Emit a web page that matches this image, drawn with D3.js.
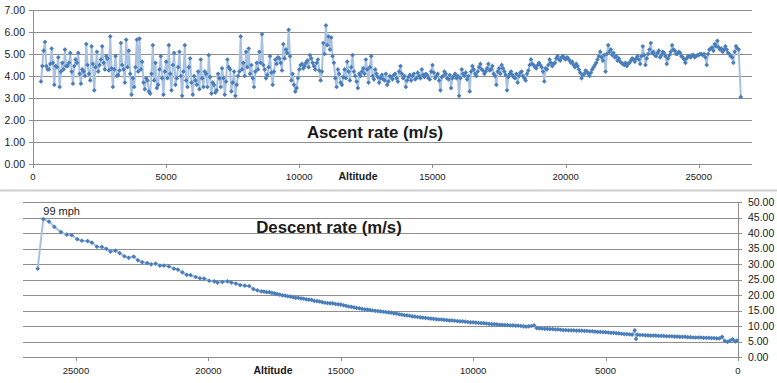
<!DOCTYPE html>
<html>
<head>
<meta charset="utf-8">
<script src="https://cdn.jsdelivr.net/npm/d3@7"></script>
<style>
body { margin: 0; background: #fff; }
svg text { font-family: "Liberation Sans", Arial, sans-serif; fill: #1a1a1a; }
</style>
</head>
<body>
<script>
var width = 777;
var height = 383;

// ascent: altitude (m) and rate (m/s), readings on the 100 m marks
var ascentAlt = [
  300, 400, 500, 600, 700, 800, 900,
  1000, 1100, 1200, 1300, 1400, 1500, 1600, 1700, 1800, 1900,
  2000, 2100, 2200, 2300, 2400, 2500, 2600, 2700, 2800, 2900,
  3000, 3100, 3200, 3300, 3400, 3500, 3600, 3700, 3800, 3900,
  4000, 4100, 4200, 4300, 4400, 4500, 4600, 4700, 4800, 4900,
  5000, 5100, 5200, 5300, 5400, 5500, 5600, 5700, 5800, 5900,
  6000, 6100, 6200, 6300, 6400, 6500, 6600, 6700, 6800, 6900,
  7000, 7100, 7200, 7300, 7400, 7500, 7600, 7700, 7800, 7900,
  8000, 8100, 8200, 8300, 8400, 8500, 8600, 8700, 8800, 8900,
  9000, 9100, 9200, 9300, 9400, 9500, 9600, 9700, 9800, 9900,
  10000, 10100, 10200, 10300, 10400, 10500, 10600, 10700, 10800, 10900,
  11000, 11100, 11200, 11300, 11400, 11500, 11600, 11700, 11800, 11900,
  12000, 12100, 12200, 12300, 12400, 12500, 12600, 12700, 12800, 12900,
  13000, 13100, 13200, 13300, 13400, 13500, 13600, 13700, 13800, 13900,
  14000, 14100, 14200, 14300, 14400, 14500, 14600, 14700, 14800, 14900,
  15000, 15100, 15200, 15300, 15400, 15500, 15600, 15700, 15800, 15900,
  16000, 16100, 16200, 16300, 16400, 16500, 16600, 16700, 16800, 16900,
  17000, 17100, 17200, 17300, 17400, 17500, 17600, 17700, 17800, 17900,
  18000, 18100, 18200, 18300, 18400, 18500, 18600, 18700, 18800, 18900,
  19000, 19100, 19200, 19300, 19400, 19500, 19600, 19700, 19800, 19900,
  20000, 20100, 20200, 20300, 20400, 20500, 20600, 20700, 20800, 20900,
  21000, 21100, 21200, 21300, 21400, 21500, 21600, 21700, 21800, 21900,
  22000, 22100, 22200, 22300, 22400, 22500, 22600, 22700, 22800, 22900,
  23000, 23100, 23200, 23300, 23400, 23500, 23600, 23700, 23800, 23900,
  24000, 24100, 24200, 24300, 24400, 24500, 24600, 24700, 24800, 24900,
  25000, 25100, 25200, 25300, 25400, 25500, 25600, 25700, 25800, 25900,
  26000, 26100, 26200, 26300, 26400, 26500, 26580
];
var ascentRate = [
  3.75, 5.15, 4.45, 4.3, 5.25, 3.6, 4.4,
  3.5, 4.6, 5.2, 4.45, 5.05, 3.65, 4.75, 5.05, 3.65, 4.2,
  5.45, 4.1, 5.35, 3.35, 5.1, 4.5, 5.35, 4.3, 4.8, 5.8,
  3.5, 4.9, 4.05, 5.5, 4.3, 5.65, 5.15, 3.15, 3.5, 5.65,
  5.7, 4.65, 3.4, 3.8, 3.2, 5.4, 4.6, 3.6, 4.9, 3.15,
  4.65, 5.4, 3.35, 5.05, 3.9, 5.1, 3.1, 5.4, 3.5, 4.8,
  3.15, 3.8, 4.2, 4.75, 3.5, 4.1, 4.95, 3.2, 3.6, 3.35,
  3.9, 4.35, 3.15, 4.75, 4.3, 3.7, 3.1, 4.0, 5.8, 4.6,
  5.1, 5.25, 4.5, 3.5, 4.6, 5.1, 5.9, 4.3, 4.05, 4.9,
  3.6, 4.75, 4.85, 4.6, 5.45, 5.2, 6.1, 3.8, 3.6, 3.45,
  4.3, 4.55, 4.45, 4.7, 4.95, 4.6, 4.3, 4.75, 3.8, 5.5,
  6.3, 5.8, 5.75, 4.6, 3.5, 4.1, 3.6, 4.3, 4.65, 3.8,
  4.95, 4.0, 3.45, 4.0, 4.35, 4.75, 3.7, 4.9, 3.85, 4.1,
  3.7, 4.05, 3.8, 3.6, 4.0, 3.85, 4.1, 3.75, 4.45, 3.9,
  3.5, 3.95, 3.8, 4.1, 3.9, 4.0, 4.3, 3.95, 4.05, 3.85,
  4.5, 3.9, 4.1, 3.35, 4.0, 4.1, 3.85, 3.45, 4.0, 3.9,
  3.1, 4.3, 4.0, 3.85, 3.3, 4.45, 4.1, 4.2, 4.55, 4.25,
  4.2, 4.55, 4.3, 4.1, 3.6, 4.35, 4.5, 4.2, 3.35, 4.1,
  4.05, 3.9, 3.7, 4.15, 4.0, 3.8, 4.25, 4.75, 4.5, 4.35,
  4.6, 4.4, 3.75, 4.3, 4.75, 4.45, 4.6, 4.9, 4.7, 4.9,
  4.75, 4.8, 4.6, 4.5, 4.55, 4.3, 3.9, 4.1, 4.2, 4.0,
  4.3, 4.5, 4.75, 5.1, 4.7, 4.2, 5.4, 5.2, 5.05, 4.9,
  4.8, 4.6, 4.5, 4.45, 4.6, 4.8, 4.65, 4.9, 4.55, 5.35,
  4.5, 5.0, 5.5, 5.1, 4.9, 5.15, 4.95, 5.05, 4.55, 4.95,
  5.4, 5.15, 5.0, 5.05, 4.85, 4.6, 4.9, 4.85, 4.95, 4.9,
  4.95, 5.0, 5.0, 4.5, 5.2, 5.3, 5.45, 5.6, 5.2, 5.1,
  5.35, 5.05, 4.9, 4.6, 5.35, 5.2, 3.05
];

// ascent readings between the 100 m marks
var ascentAltMid = [
  350, 450, 550, 650, 750, 850, 950,
  1050, 1150, 1250, 1350, 1450, 1550, 1650, 1750, 1850, 1950,
  2050, 2150, 2250, 2350, 2450, 2550, 2650, 2750, 2850, 2950,
  3050, 3150, 3250, 3350, 3450, 3550, 3650, 3750, 3850, 3950,
  4050, 4150, 4250, 4350, 4450, 4550, 4650, 4750, 4850, 4950,
  5050, 5150, 5250, 5350, 5450, 5550, 5650, 5750, 5850, 5950,
  6050, 6150, 6250, 6350, 6450, 6550, 6650, 6750, 6850, 6950,
  7050, 7150, 7250, 7350, 7450, 7550, 7650, 7750, 7850, 7950,
  8050, 8150, 8250, 8350, 8450, 8550, 8650, 8750, 8850, 8950,
  9050, 9150, 9250, 9350, 9450, 9550, 9650, 9750, 9850, 9950,
  10050, 10150, 10250, 10350, 10450, 10550, 10650, 10750, 10850, 10950,
  11050, 11150, 11250, 11350, 11450, 11550, 11650, 11750, 11850, 11950,
  12050, 12150, 12250, 12350, 12450, 12550, 12650, 12750, 12850, 12950,
  13050, 13150, 13250, 13350, 13450, 13550, 13650, 13750, 13850, 13950,
  14050, 14150, 14250, 14350, 14450, 14550, 14650, 14750, 14850, 14950,
  15050, 15150, 15250, 15350, 15450, 15550, 15650, 15750, 15850, 15950,
  16050, 16150, 16250, 16350, 16450, 16550, 16650, 16750, 16850, 16950,
  17050, 17150, 17250, 17350, 17450, 17550, 17650, 17750, 17850, 17950,
  18050, 18150, 18250, 18350, 18450, 18550, 18650, 18750, 18850, 18950,
  19050, 19150, 19250, 19350, 19450, 19550, 19650, 19750, 19850, 19950,
  20050, 20150, 20250, 20350, 20450, 20550, 20650, 20750, 20850, 20950,
  21050, 21150, 21250, 21350, 21450, 21550, 21650, 21750, 21850, 21950,
  22050, 22150, 22250, 22350, 22450, 22550, 22650, 22750, 22850, 22950,
  23050, 23150, 23250, 23350, 23450, 23550, 23650, 23750, 23850, 23950,
  24050, 24150, 24250, 24350, 24450, 24550, 24650, 24750, 24850, 24950,
  25050, 25150, 25250, 25350, 25450, 25550, 25650, 25750, 25850, 25950,
  26050, 26150, 26250, 26350, 26450
];
var ascentRateMid = [
  4.45, 5.55, 4.3, 4.55, 4.6, 4.45, 4.85,
  4.2, 4.3, 4.45, 4.6, 4.2, 4.45, 4.6, 4.1, 4.3, 4.0,
  4.5, 3.8, 4.55, 4.4, 4.2, 4.75, 4.6, 4.9, 4.25, 4.35,
  4.3, 4.0, 4.25, 4.5, 3.7, 4.4, 4.1, 3.9, 4.4, 4.2,
  4.3, 3.7, 3.9, 3.3, 4.1, 3.8, 3.45, 4.3, 3.9, 4.2,
  3.9, 4.1, 4.5, 3.6, 4.4, 4.0, 4.2, 3.8, 4.4, 3.7,
  4.0, 3.6, 3.4, 3.9, 4.2, 3.5, 3.95, 3.7, 3.25, 4.1,
  3.5, 3.9, 3.75, 4.4, 3.3, 4.2, 3.6, 4.2, 4.3, 4.0,
  4.4, 4.1, 3.9, 4.2, 4.3, 4.6, 4.5, 3.9, 4.4, 4.15,
  4.2, 4.55, 4.8, 4.25, 4.8, 5.05, 4.9, 4.1, 3.3, 3.9,
  4.5, 4.35, 4.6, 4.4, 4.8, 4.45, 4.6, 4.25, 4.2, 5.0,
  5.4, 5.2, 4.9, 3.9, 4.3, 3.7, 3.95, 3.9, 4.2, 4.4,
  4.2, 3.75, 4.1, 4.2, 4.1, 4.3, 4.4, 4.0, 4.3, 3.95,
  3.9, 3.85, 4.1, 3.75, 3.95, 4.05, 3.9, 4.2, 4.1, 4.0,
  3.8, 4.05, 4.0, 3.85, 4.15, 3.9, 4.05, 4.1, 3.9, 4.2,
  4.15, 4.0, 3.8, 3.95, 4.2, 3.9, 4.05, 3.9, 4.1, 4.0,
  3.9, 4.1, 4.15, 4.0, 4.2, 4.3, 4.0, 4.4, 4.3, 4.1,
  4.35, 4.25, 4.45, 4.0, 4.2, 4.1, 4.35, 4.05, 3.95, 4.2,
  3.95, 4.1, 4.0, 4.2, 3.9, 4.1, 4.5, 4.55, 4.4, 4.5,
  4.5, 4.2, 4.35, 4.5, 4.6, 4.55, 4.8, 4.75, 4.85, 4.8,
  4.85, 4.7, 4.65, 4.4, 4.45, 4.15, 4.05, 4.25, 4.1, 4.15,
  4.4, 4.6, 4.9, 4.85, 4.95, 5.0, 5.1, 4.95, 4.85, 4.7,
  4.65, 4.55, 4.6, 4.55, 4.7, 4.75, 4.8, 4.75, 4.9, 4.95,
  4.8, 5.2, 5.05, 4.95, 5.05, 4.85, 5.1, 4.9, 4.8, 5.1,
  5.2, 5.0, 5.1, 4.9, 4.75, 4.8, 4.9, 4.95, 4.85, 4.95,
  5.0, 4.95, 4.85, 5.0, 5.25, 5.15, 5.35, 5.3, 5.25, 5.2,
  5.2, 5.0, 4.85, 5.1, 5.25
];

// descent: altitude (m) and rate (m/s)
var descentAlt = [
  26445, 26233, 26018, 25817, 25565, 25350, 25160, 24950, 24780, 24560,
  24400, 24210, 24020, 23850, 23700, 23510, 23350, 23170, 23010, 22820,
  22660, 22500, 22310, 22160, 21990, 21830, 21680, 21490, 21300, 21150,
  20980, 20820, 20670, 20480, 20320, 20160, 19970, 19780, 19660, 19470,
  19280, 19130, 18960, 18800, 18620, 18460, 18300, 18150,
  18000, 17900, 17800, 17700, 17600, 17500, 17400, 17300, 17200, 17100,
  17000, 16900, 16800, 16700, 16600, 16500, 16400, 16300, 16200, 16100,
  16000, 15900, 15800, 15700, 15600, 15500, 15400, 15300, 15200, 15100,
  15000, 14900, 14800, 14700, 14600, 14500, 14400, 14300, 14200, 14100,
  14000, 13900, 13800, 13700, 13600, 13500, 13400, 13300, 13200, 13100,
  13000, 12900, 12800, 12700, 12600, 12500, 12400, 12300, 12200, 12100,
  12000, 11900, 11800, 11700, 11600, 11500, 11400, 11300, 11200, 11100,
  11000, 10900, 10800, 10700, 10600, 10500, 10400, 10300, 10200, 10100,
  10000, 9900, 9800, 9700, 9600, 9500, 9400, 9300, 9200, 9100,
  9000, 8900, 8800, 8700, 8600, 8500, 8400, 8300, 8200, 8100,
  8000, 7900, 7800, 7700, 7600, 7500, 7400, 7300, 7200, 7100,
  7000, 6900, 6800, 6700, 6600, 6500, 6400, 6300, 6200, 6100,
  6000, 5900, 5800, 5700, 5600, 5500, 5400, 5300, 5200, 5100,
  5000, 4900, 4800, 4700, 4600, 4500, 4400, 4300, 4200, 4100,
  4000, 3900, 3850, 3800, 3700, 3600, 3500, 3400, 3300, 3200, 3100,
  3000, 2900, 2800, 2700, 2600, 2500, 2400, 2300, 2200, 2100,
  2000, 1900, 1800, 1700, 1600, 1500, 1400, 1300, 1200, 1100,
  1000, 900, 800, 700, 600, 500, 400, 300, 200, 100, 40
];
var descentRate = [
  28.5, 44.5, 43.7, 42.0, 40.3, 39.5, 39.3, 38.0, 37.5, 37.4,
  36.9, 35.6, 35.5, 34.9, 34.0, 34.3, 33.5, 32.5, 32.0, 32.4,
  31.2, 30.6, 30.3, 29.9, 30.1, 29.5, 29.5, 29.2, 28.5, 28.2,
  27.3, 26.5, 26.4, 25.8, 25.4, 25.3, 24.6, 24.4, 24.0, 24.2,
  24.4, 24.0, 23.7, 23.2, 23.0, 22.9, 21.9, 21.5,
  21.2, 21.1, 20.9, 20.9, 20.7, 20.5, 20.3, 20.1, 19.9, 19.8,
  19.6, 19.5, 19.3, 19.1, 19.1, 18.9, 18.8, 18.6, 18.5, 18.4,
  18.1, 18.0, 17.9, 17.7, 17.5, 17.4, 17.3, 17.3, 17.1, 17.0,
  16.9, 16.7, 16.5, 16.3, 16.2, 16.0, 15.8, 15.7, 15.5, 15.4,
  15.3, 15.2, 15.0, 14.9, 14.8, 14.7, 14.6, 14.5, 14.4, 14.3,
  14.1, 14.0, 13.8, 13.7, 13.5, 13.4, 13.3, 13.1, 13.0, 12.9,
  12.8, 12.7, 12.6, 12.5, 12.4, 12.3, 12.2, 12.1, 12.1, 12.0,
  11.9, 11.8, 11.8, 11.7, 11.6, 11.5, 11.5, 11.4, 11.3, 11.2,
  11.2, 11.1, 11.0, 10.9, 10.9, 10.8, 10.7, 10.6, 10.6, 10.5,
  10.4, 10.4, 10.3, 10.3, 10.2, 10.2, 10.1, 10.1, 10.0, 9.9,
  9.8, 9.9, 10.0, 10.2, 9.3, 9.2, 9.2, 9.1, 9.1, 9.0,
  9.0, 8.9, 8.9, 8.8, 8.7, 8.7, 8.6, 8.6, 8.6, 8.5,
  8.5, 8.5, 8.4, 8.4, 8.3, 8.3, 8.2, 8.1, 8.1, 8.0,
  8.0, 7.9, 7.8, 7.8, 7.7, 7.6, 7.5, 7.4, 7.4, 7.3,
  7.2, 8.6, 5.8, 7.2, 7.1, 7.1, 7.0, 7.0, 6.9, 6.9, 6.9,
  6.8, 6.8, 6.8, 6.7, 6.7, 6.7, 6.6, 6.6, 6.5, 6.5,
  6.5, 6.4, 6.4, 6.3, 6.3, 6.3, 6.3, 6.2, 6.2, 6.2,
  6.1, 6.1, 6.0, 6.0, 6.5, 5.2, 4.9, 5.3, 5.7, 5.0, 5.3
];

var altTicks = [0, 5000, 10000, 15000, 20000, 25000];
var ascentTicks = [0, 1, 2, 3, 4, 5, 6, 7];
var descentTicks = [0, 5, 10, 15, 20, 25, 30, 35, 40, 45, 50];
var peakLabel = '99 mph';

var gridColor = '#8e8e8e';
var lineColor = '#a9c1e1';
var markColor = '#4a7ebb';

var svg = d3.select('body').append('svg')
  .attr('width', width)
  .attr('height', height);

// divider between the two charts
svg.append('line')
  .attr('x1', 0).attr('x2', width)
  .attr('y1', 190.5).attr('y2', 190.5)
  .attr('stroke', '#cfcfcf')
  .attr('stroke-width', 2);

var marker = d3.symbol().type(d3.symbolSquare).size(11);

var toPoints = function(alts, rates) {
  return alts.map(function(a, i) { return {a: a, r: rates[i]}; });
};

var drawSeries = function(g, pts, x, y) {
  var line = d3.line()
    .x(function(d) { return x(d.a); })
    .y(function(d) { return y(d.r); });
  g.append('path')
    .datum(pts)
    .attr('d', line)
    .attr('fill', 'none')
    .attr('stroke', lineColor)
    .attr('stroke-width', 2);
  g.selectAll('.pt').data(pts).enter().append('path')
    .attr('class', 'pt')
    .attr('d', marker)
    .attr('transform', function(d) {
      return 'translate(' + x(d.a) + ',' + y(d.r) + ') rotate(45)';
    })
    .attr('fill', markColor);
};

/* ---------- ascent ---------- */
var xA = d3.scaleLinear().domain([0, 27000]).range([33, 752]);
var yA = d3.scaleLinear().domain([0, 7]).range([164, 10]);
var gA = svg.append('g');

gA.selectAll('.grid').data(ascentTicks).enter().append('line')
  .attr('x1', 29).attr('x2', 752)
  .attr('y1', function(d) { return Math.round(yA(d)) + 0.5; })
  .attr('y2', function(d) { return Math.round(yA(d)) + 0.5; })
  .attr('stroke', gridColor);

gA.append('line')
  .attr('x1', 33.5).attr('x2', 33.5)
  .attr('y1', yA(7)).attr('y2', yA(0) + 1)
  .attr('stroke', gridColor);

gA.selectAll('.ylab').data(ascentTicks).enter().append('text')
  .attr('x', 25)
  .attr('y', function(d) { return yA(d); })
  .attr('dy', '0.35em')
  .attr('text-anchor', 'end')
  .style('font-size', '10.5px')
  .text(function(d) { return d3.format('.2f')(d); });

gA.selectAll('.xtick').data(altTicks).enter().append('line')
  .attr('x1', function(d) { return Math.round(xA(d)) + 0.5; })
  .attr('x2', function(d) { return Math.round(xA(d)) + 0.5; })
  .attr('y1', yA(0)).attr('y2', yA(0) + 4)
  .attr('stroke', gridColor);

gA.selectAll('.xlab').data(altTicks).enter().append('text')
  .attr('x', function(d) { return xA(d); })
  .attr('y', 180)
  .attr('text-anchor', 'middle')
  .style('font-size', '9.5px')
  .text(function(d) { return d; });

var ascentPts = toPoints(ascentAlt, ascentRate)
  .concat(toPoints(ascentAltMid, ascentRateMid))
  .sort(function(p, q) { return p.a - q.a; });
drawSeries(gA, ascentPts, xA, yA);

gA.append('text')
  .attr('x', 375).attr('y', 138)
  .attr('text-anchor', 'middle')
  .style('font-size', '16.8px')
  .style('font-weight', 'bold')
  .text('Ascent rate (m/s)');

gA.append('text')
  .attr('x', 358).attr('y', 180)
  .attr('text-anchor', 'middle')
  .style('font-size', '10.5px')
  .style('font-weight', 'bold')
  .text('Altitude');

/* ---------- descent ---------- */
var xD = d3.scaleLinear().domain([27000, 0]).range([23, 738]);
var yD = d3.scaleLinear().domain([0, 50]).range([357, 202]);
var gD = svg.append('g');

gD.selectAll('.grid').data(descentTicks).enter().append('line')
  .attr('x1', 23).attr('x2', 742)
  .attr('y1', function(d) { return Math.round(yD(d)) + 0.5; })
  .attr('y2', function(d) { return Math.round(yD(d)) + 0.5; })
  .attr('stroke', gridColor);

gD.append('line')
  .attr('x1', 738.5).attr('x2', 738.5)
  .attr('y1', yD(50)).attr('y2', yD(0) + 1)
  .attr('stroke', gridColor);

gD.selectAll('.ylab').data(descentTicks).enter().append('text')
  .attr('x', 748)
  .attr('y', function(d) { return yD(d); })
  .attr('dy', '0.35em')
  .style('font-size', '10.5px')
  .text(function(d) { return d3.format('.2f')(d); });

gD.selectAll('.xtick').data(altTicks).enter().append('line')
  .attr('x1', function(d) { return Math.round(xD(d)) + 0.5; })
  .attr('x2', function(d) { return Math.round(xD(d)) + 0.5; })
  .attr('y1', yD(0)).attr('y2', yD(0) + 4)
  .attr('stroke', gridColor);

gD.selectAll('.xlab').data(altTicks).enter().append('text')
  .attr('x', function(d) { return xD(d); })
  .attr('y', 374)
  .attr('text-anchor', 'middle')
  .style('font-size', '9.5px')
  .text(function(d) { return d; });

drawSeries(gD, toPoints(descentAlt, descentRate), xD, yD);

gD.append('text')
  .attr('x', xD(descentAlt[1])).attr('y', yD(descentRate[1]) - 4)
  .style('font-size', '11px')
  .text(peakLabel);

gD.append('text')
  .attr('x', 329).attr('y', 233)
  .attr('text-anchor', 'middle')
  .style('font-size', '16.8px')
  .style('font-weight', 'bold')
  .text('Descent rate (m/s)');

gD.append('text')
  .attr('x', 273).attr('y', 374)
  .attr('text-anchor', 'middle')
  .style('font-size', '10.5px')
  .style('font-weight', 'bold')
  .text('Altitude');
</script>
</body>
</html>
